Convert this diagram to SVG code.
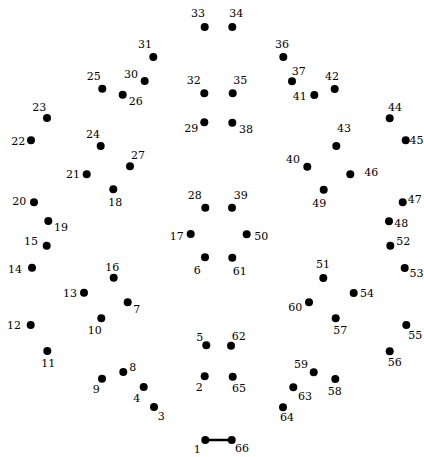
<svg xmlns="http://www.w3.org/2000/svg" width="424" height="457" viewBox="0 0 424 457">
<style>
circle{fill:#000}
text{font-family:"DejaVu Serif","Liberation Serif",serif;font-size:11px;fill:#000;text-anchor:middle}
.c line{stroke:#000;stroke-width:2.5}
</style>
<rect width="424" height="457" fill="#fff"/>
<g class="c" id="connectors"><line x1="205" y1="440" x2="232" y2="440"/></g>
<g id="n1"><circle cx="205.3" cy="440" r="4"/><text x="197.3" y="453">1</text></g>
<g id="n2"><circle cx="204.7" cy="376.3" r="4"/><text x="199.3" y="391">2</text></g>
<g id="n3"><circle cx="154" cy="407" r="4"/><text x="161.3" y="420">3</text></g>
<g id="n4"><circle cx="143.7" cy="387" r="4"/><text x="136.7" y="402">4</text></g>
<g id="n5"><circle cx="206.3" cy="345.3" r="4"/><text x="199.7" y="341">5</text></g>
<g id="n6"><circle cx="205" cy="257.3" r="4"/><text x="197.3" y="274">6</text></g>
<g id="n7"><circle cx="127.7" cy="302.3" r="4"/><text x="136.7" y="313">7</text></g>
<g id="n8"><circle cx="123.3" cy="372" r="4"/><text x="132.7" y="371">8</text></g>
<g id="n9"><circle cx="102" cy="378.7" r="4"/><text x="96.3" y="393">9</text></g>
<g id="n10"><circle cx="101.3" cy="318.3" r="4"/><text x="94.7" y="334">10</text></g>
<g id="n11"><circle cx="47.3" cy="351" r="4"/><text x="48.3" y="367">11</text></g>
<g id="n12"><circle cx="30.7" cy="325" r="4"/><text x="14" y="329">12</text></g>
<g id="n13"><circle cx="84" cy="292.7" r="4"/><text x="70" y="297">13</text></g>
<g id="n14"><circle cx="32" cy="267.7" r="4"/><text x="15" y="273">14</text></g>
<g id="n15"><circle cx="46.7" cy="245.7" r="4"/><text x="31" y="245">15</text></g>
<g id="n16"><circle cx="113.7" cy="277.7" r="4"/><text x="112.3" y="271">16</text></g>
<g id="n17"><circle cx="190.7" cy="234" r="4"/><text x="176.7" y="240">17</text></g>
<g id="n18"><circle cx="113.3" cy="189.3" r="4"/><text x="115.3" y="206">18</text></g>
<g id="n19"><circle cx="48.3" cy="221" r="4"/><text x="61" y="231">19</text></g>
<g id="n20"><circle cx="34" cy="202.3" r="4"/><text x="19.3" y="205">20</text></g>
<g id="n21"><circle cx="86.7" cy="174.3" r="4"/><text x="73" y="178">21</text></g>
<g id="n22"><circle cx="31" cy="140.3" r="4"/><text x="18.3" y="145">22</text></g>
<g id="n23"><circle cx="47" cy="118" r="4"/><text x="39.3" y="111">23</text></g>
<g id="n24"><circle cx="100.7" cy="146" r="4"/><text x="93" y="138">24</text></g>
<g id="n25"><circle cx="102.3" cy="88.7" r="4"/><text x="93.7" y="80">25</text></g>
<g id="n26"><circle cx="122.7" cy="94.7" r="4"/><text x="135.7" y="105">26</text></g>
<g id="n27"><circle cx="130" cy="166.3" r="4"/><text x="138" y="159">27</text></g>
<g id="n28"><circle cx="205.3" cy="207.7" r="4"/><text x="194.7" y="199">28</text></g>
<g id="n29"><circle cx="204.3" cy="122.3" r="4"/><text x="191.3" y="132">29</text></g>
<g id="n30"><circle cx="144.7" cy="81" r="4"/><text x="131" y="78">30</text></g>
<g id="n31"><circle cx="153.3" cy="57" r="4"/><text x="145" y="48">31</text></g>
<g id="n32"><circle cx="204.3" cy="93.3" r="4"/><text x="193.7" y="84">32</text></g>
<g id="n33"><circle cx="204.7" cy="27" r="4"/><text x="198" y="17">33</text></g>
<g id="n34"><circle cx="232.3" cy="27" r="4"/><text x="236.3" y="17">34</text></g>
<g id="n35"><circle cx="232.7" cy="93.3" r="4"/><text x="240.3" y="84">35</text></g>
<g id="n36"><circle cx="283.3" cy="57" r="4"/><text x="282" y="48">36</text></g>
<g id="n37"><circle cx="292" cy="81.3" r="4"/><text x="298.7" y="75">37</text></g>
<g id="n38"><circle cx="232.3" cy="122.7" r="4"/><text x="246" y="133">38</text></g>
<g id="n39"><circle cx="232" cy="207.7" r="4"/><text x="240.7" y="199">39</text></g>
<g id="n40"><circle cx="307.3" cy="166.7" r="4"/><text x="293" y="163">40</text></g>
<g id="n41"><circle cx="314.3" cy="95" r="4"/><text x="299.7" y="100">41</text></g>
<g id="n42"><circle cx="334.7" cy="89" r="4"/><text x="332" y="80">42</text></g>
<g id="n43"><circle cx="336.3" cy="146" r="4"/><text x="344" y="132">43</text></g>
<g id="n44"><circle cx="389.7" cy="118.3" r="4"/><text x="395" y="111">44</text></g>
<g id="n45"><circle cx="405.7" cy="140.3" r="4"/><text x="416.5" y="144">45</text></g>
<g id="n46"><circle cx="350.3" cy="174.3" r="4"/><text x="371.3" y="176">46</text></g>
<g id="n47"><circle cx="402.7" cy="202.3" r="4"/><text x="414.7" y="203">47</text></g>
<g id="n48"><circle cx="389" cy="221.3" r="4"/><text x="401.3" y="227">48</text></g>
<g id="n49"><circle cx="323.7" cy="189.7" r="4"/><text x="319.3" y="207">49</text></g>
<g id="n50"><circle cx="246.7" cy="234.3" r="4"/><text x="261.3" y="240">50</text></g>
<g id="n51"><circle cx="323.3" cy="278" r="4"/><text x="323" y="268">51</text></g>
<g id="n52"><circle cx="390.3" cy="245.7" r="4"/><text x="403.3" y="245">52</text></g>
<g id="n53"><circle cx="404.7" cy="268" r="4"/><text x="416.5" y="277">53</text></g>
<g id="n54"><circle cx="353.7" cy="293" r="4"/><text x="367" y="297">54</text></g>
<g id="n55"><circle cx="406.3" cy="325" r="4"/><text x="415.3" y="339">55</text></g>
<g id="n56"><circle cx="389.7" cy="351.3" r="4"/><text x="394.7" y="366">56</text></g>
<g id="n57"><circle cx="335.7" cy="318.3" r="4"/><text x="340.3" y="334">57</text></g>
<g id="n58"><circle cx="335.3" cy="379" r="4"/><text x="334.7" y="395">58</text></g>
<g id="n59"><circle cx="313.7" cy="372.3" r="4"/><text x="301" y="368">59</text></g>
<g id="n60"><circle cx="309" cy="302.3" r="4"/><text x="295.3" y="311">60</text></g>
<g id="n61"><circle cx="232.3" cy="257.7" r="4"/><text x="239.7" y="275">61</text></g>
<g id="n62"><circle cx="231" cy="345.7" r="4"/><text x="238.7" y="340">62</text></g>
<g id="n63"><circle cx="293.3" cy="387.3" r="4"/><text x="305" y="400">63</text></g>
<g id="n64"><circle cx="283" cy="407.3" r="4"/><text x="287" y="421">64</text></g>
<g id="n65"><circle cx="232.7" cy="376.7" r="4"/><text x="239" y="392">65</text></g>
<g id="n66"><circle cx="231.7" cy="440" r="4"/><text x="242" y="452">66</text></g>
</svg>
